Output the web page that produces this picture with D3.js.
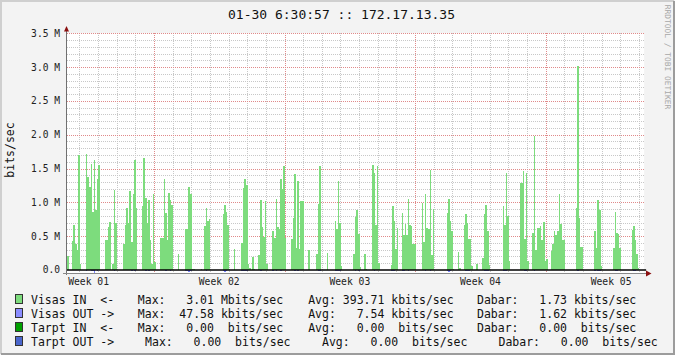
<!DOCTYPE html>
<head>
    <meta charset="utf-8">
    <script src="https://cdn.jsdelivr.net/npm/d3@7"></script>
    <style>
        body { margin: 0; background: #f3f3f3; }
        text { font-family: "DejaVu Sans Mono", monospace; white-space: pre; }
    </style>
</head>

<body>
<script>

    // Visas IN, Mbits/sec, one value per 2 hour step (12 steps = 1 day per line)
    var visasIn = [
        0.2,0,0,0.43,0.66,0.38,0.3,1.7,0.09,0,0,0,
        1.72,1.38,1.22,1.57,0.86,1.62,0.88,1.34,1.55,0,0,0,
        0.44,0.44,0.64,0.71,0,0.09,1.18,0.7,0,0,0,0,
        0.39,0.66,0.91,0.69,1.17,0.42,1.12,1.62,0.91,0,0,0,
        0.95,1.66,1.06,0.69,1.03,0.44,0.09,1.13,0.12,0,0,0,
        0.48,0.48,1.34,0.85,0.44,1.14,1.03,0.96,0,0,0,0.24,
        0,0,0,0,0.6,0.6,1.23,1.12,0.01,0.01,0,0,
        0,0,0.01,0,0.65,0.91,0.72,0.75,0,0,0,0,
        0,0,0,0,0.83,0.96,0.86,0.66,0.01,0,0,0.31,
        0,0,0,0,0.4,1.21,1.34,1.25,0.09,0.03,0,0.19,
        0.02,0,0,0.22,1.03,0.63,0.49,1.02,0.09,0,0,0,
        0.57,0.48,1.05,0.64,0.6,1.34,1.2,1.54,0.48,0,0,0,
        0.46,0.77,1.42,0.33,1.31,0.31,1.02,1.02,0,0,0,0.3,
        0,0,0,0,0.24,0.97,1.54,0,0,0,0,0.25,
        0,0,0,0,0.72,0.61,1.31,0.69,0.06,0,0,0,
        0,0,0,0,0.24,0.78,0.89,0.53,0.04,0,0,0.24,
        0.01,0,0,0,1.55,1.44,0.66,1.54,0.1,0,0,0,
        0,0,0,0,0.07,0.95,0.72,0.31,0.62,0,0,0.84,
        0.52,0.68,0.52,1.05,0.66,0.65,0.39,0.39,0,0,0,0,
        0.99,0.42,1.12,0.62,0.61,1.48,0.22,0.9,0,0,0,0,
        0,0,0,0,0.84,1.05,0.73,0.58,0.01,0,0,0.27,
        0.03,0,0,0.66,0.83,0.7,0.46,0.46,0.06,0,0,0.09,
        0,0,0,0.18,0.83,0.96,0.58,0.07,0,0,0,0,
        0,0,0,0,0.95,0.66,1.44,0.8,0.13,0,0,0,
        0,0,0,1.29,1.29,1.46,0.46,1.44,0.13,0,0,0.55,
        1.98,0.3,0.62,0.62,0.65,0.45,0.71,0.13,0.16,0,0,0.28,
        0.39,0.57,0.52,0.58,1.13,0.68,0.45,0.45,0,0,0,0,
        0,0,0,0.91,3.01,0.77,0.34,0.34,0,0,0,0,
        0,0,0,0.57,0.33,1.03,0.88,0.06,0,0,0,0,
        0,0,0,0.33,0.86,0.54,0.53,0.32,0,0,0,0,
        0,0,0,0.59,0.65,0.44,0.24,0.03,0,0,0
    ];

    // Visas OUT, kbits/sec, only the steps where it shows
    var outSteps = [12,15,16,17,19,30,41,43,50,52,63,66,76,77,78,79,89,100,101,102,112,113,114,115,
        124,132,134,137,146,148,161,162,172,173,174,175,185,187,197,208,209,210,215,216,219,230,233,
        244,245,246,256,257,258,268,269,270,280,281,282,294,295,300,328,339,341,342,352,353,364,365];
    var outKbits = [15,20,20,45,15,15,15,15,15,15,15,15,15,15,35,15,15,15,35,15,15,15,15,15,
        15,15,15,15,15,15,15,15,15,15,15,15,15,15,15,15,15,15,15,15,15,15,15,
        15,35,15,15,15,15,15,15,15,15,15,15,15,15,15,15,15,15,15,15,15,15,15];

    var stepHours = 2;
    var totalHours = 742;
    var firstMidnight = 15.5;          // hours after graph start
    var weekStartDays = [4, 11, 18, 25];
    var weekLabels = ["Week 01", "Week 02", "Week 03", "Week 04", "Week 05"];
    var yTicks = [0, 0.5, 1, 1.5, 2, 2.5, 3, 3.5];
    var yTickLabels = ["0.0", "0.5 M", "1.0 M", "1.5 M", "2.0 M", "2.5 M", "3.0 M", "3.5 M"];

    var title = "01-30 6:30:57 :: 172.17.13.35";
    var legendNames = ["Visas IN  <-", "Visas OUT ->", "Tarpt IN  <-", "Tarpt OUT ->"];
    var legendMax = ["Max:   3.01 Mbits/sec", "Max:  47.58 kbits/sec", "Max:   0.00  bits/sec", "Max:   0.00  bits/sec"];
    var legendAvg = ["Avg: 393.71 kbits/sec", "Avg:   7.54 kbits/sec", "Avg:   0.00  bits/sec", "Avg:   0.00  bits/sec"];
    var legendCur = ["Dabar:   1.73 kbits/sec", "Dabar:   1.62 kbits/sec", "Dabar:   0.00  bits/sec", "Dabar:   0.00  bits/sec"];
    var legendColors = ["#7ddc7d", "#8a8cff", "#00a000", "#4a66cc"];

    var svg = d3.select("body").append("svg")
        .attr("width", 675)
        .attr("height", 355);

    // frame
    svg.append("rect").attr("x", 0).attr("y", 0).attr("width", 675).attr("height", 355).style("fill", "#f3f3f3");
    svg.append("path").attr("d", "M1,354V1H674").style("fill", "none").style("stroke", "#cfcfcf").style("stroke-width", 2);
    svg.append("path").attr("d", "M1,354H674V1").style("fill", "none").style("stroke", "#9c9c9c").style("stroke-width", 2);

    var x = d3.scaleLinear().domain([0, totalHours]).range([67.2, 644.1]);
    var y = d3.scaleLinear().domain([-0.052, 3.5]).range([273.5, 33.3]);

    svg.append("rect")
        .attr("x", 67).attr("y", y(3.5))
        .attr("width", x(totalHours) - 67).attr("height", y(-0.052) - y(3.5))
        .style("fill", "white");

    // horizontal grid
    var minorY = d3.range(1, 36).map(function(d) { return d / 10; })
        .filter(function(d) { return Math.round(d * 10) % 5 !== 0; });
    var grid = svg.append("g").attr("shape-rendering", "crispEdges");
    grid.selectAll(".hmin").data(minorY).enter().append("line")
        .attr("x1", 67).attr("x2", x(totalHours))
        .attr("y1", function(d) { return Math.round(y(d)) + 0.5; })
        .attr("y2", function(d) { return Math.round(y(d)) + 0.5; })
        .style("stroke", "#c8c8c8").style("stroke-dasharray", "1,1");

    // vertical grid: days and weeks
    var days = d3.range(0, 31).filter(function(k) { return weekStartDays.indexOf(k) < 0; });
    grid.selectAll(".vmin").data(days).enter().append("line")
        .attr("x1", function(k) { return Math.round(x(firstMidnight + 24 * k)) + 0.5; })
        .attr("x2", function(k) { return Math.round(x(firstMidnight + 24 * k)) + 0.5; })
        .attr("y1", y(3.5)).attr("y2", y(-0.052))
        .style("stroke", "#c8c8c8").style("stroke-dasharray", "1,1");

    grid.selectAll(".hmaj").data(yTicks.slice(1)).enter().append("line")
        .attr("x1", 67).attr("x2", x(totalHours))
        .attr("y1", function(d) { return Math.round(y(d)) + 0.5; })
        .attr("y2", function(d) { return Math.round(y(d)) + 0.5; })
        .style("stroke", "#e08a8a").style("stroke-dasharray", "1,1");
    grid.selectAll(".vmaj").data(weekStartDays).enter().append("line")
        .attr("x1", function(k) { return Math.round(x(firstMidnight + 24 * k)) + 0.5; })
        .attr("x2", function(k) { return Math.round(x(firstMidnight + 24 * k)) + 0.5; })
        .attr("y1", y(3.5)).attr("y2", y(-0.052))
        .style("stroke", "#e08a8a").style("stroke-dasharray", "1,1");

    // Visas IN area
    var pts = visasIn.map(function(v, i) { return [i * stepHours, v]; });
    pts.push([visasIn.length * stepHours, 0]);
    var area = d3.area()
        .curve(d3.curveStepAfter)
        .x(function(d) { return x(d[0]); })
        .y0(y(0))
        .y1(function(d) { return y(d[1]); });
    svg.append("path").datum(pts)
        .attr("d", area)
        .attr("shape-rendering", "crispEdges")
        .style("fill", legendColors[0]);

    // Visas OUT drawn below zero
    svg.append("g").attr("shape-rendering", "crispEdges").selectAll("rect").data(outSteps).enter().append("rect")
        .attr("x", function(s) { return x(s * stepHours); })
        .attr("width", function(s) { return x((s + 1) * stepHours) - x(s * stepHours); })
        .attr("y", y(0))
        .attr("height", function(s, i) { return y(-outKbits[i] / 1000) - y(0); })
        .style("fill", "#7c84ff");

    // zero line
    svg.append("line")
        .attr("x1", 67).attr("x2", x(totalHours) + 2)
        .attr("y1", y(0)).attr("y2", y(0))
        .style("stroke", "black").style("stroke-width", 1.3);

    // axes
    svg.append("line")
        .attr("x1", 66.5).attr("x2", 66.5).attr("y1", 29).attr("y2", 275)
        .style("stroke", "#707070");
    svg.append("line")
        .attr("x1", 63).attr("x2", 648).attr("y1", 273.5).attr("y2", 273.5)
        .style("stroke", "#8a8a8a");
    svg.append("path").attr("d", "M64,31.5L66.5,26L69,31.5Z").style("fill", "#8b1010");
    svg.append("path").attr("d", "M646,270.5L651.5,273.5L646,276.5Z").style("fill", "#8b1010");

    // y labels
    svg.selectAll(".ylab").data(yTicks).enter().append("text")
        .attr("x", 60)
        .attr("y", function(d) { return y(d) + 3.5; })
        .attr("text-anchor", "end")
        .style("font-size", "9.6px")
        .style("fill", "#222")
        .text(function(d, i) { return yTickLabels[i]; });

    // week labels
    svg.selectAll(".wlab").data(weekLabels).enter().append("text")
        .attr("x", function(d, i) { return x(firstMidnight + 24 * (7 * i + 0.5)); })
        .attr("y", 285)
        .attr("text-anchor", "middle")
        .style("font-size", "9.7px")
        .style("fill", "#222")
        .text(function(d) { return d; });

    // title and unit label
    svg.append("text").attr("x", 341.5).attr("y", 18.5)
        .attr("text-anchor", "middle").style("font-size", "13px").style("fill", "#111")
        .text(title);
    svg.append("text")
        .attr("transform", "translate(14,150) rotate(-90)")
        .attr("text-anchor", "middle").style("font-size", "11.5px").style("fill", "#111")
        .text("bits/sec");
    svg.append("text")
        .attr("transform", "translate(665,57) rotate(90)")
        .attr("text-anchor", "middle").style("font-size", "7.9px").style("fill", "#a8a8a8")
        .text("RRDTOOL / TOBI OETIKER");

    // legend
    var colX = [[31, 137.8, 308.2, 477], [31, 137.8, 308.2, 477], [31, 137.8, 308.2, 477], [31, 145.1, 322, 498.5]];
    var leg = svg.append("g");
    legendNames.forEach(function(name, r) {
        var by = 303.5 + r * 14;
        leg.append("rect")
            .attr("x", 15.5).attr("y", by - 9)
            .attr("width", 7).attr("height", 9)
            .style("fill", legendColors[r]).style("stroke", "#333").attr("shape-rendering", "crispEdges");
        [name, legendMax[r], legendAvg[r], legendCur[r]].forEach(function(t, c) {
            leg.append("text")
                .attr("x", colX[r][c]).attr("y", by)
                .style("font-size", "11.5px").style("fill", "#111")
                .text(t);
        });
    });

</script>
</body>
